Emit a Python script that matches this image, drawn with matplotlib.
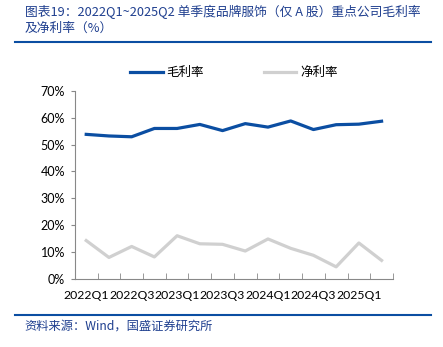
import matplotlib
matplotlib.use("Agg")
import matplotlib.pyplot as plt
from matplotlib.ticker import PercentFormatter

quarters = ["2022Q1", "2022Q2", "2022Q3", "2022Q4", "2023Q1", "2023Q2", "2023Q3",
            "2023Q4", "2024Q1", "2024Q2", "2024Q3", "2024Q4", "2025Q1", "2025Q2"]
gross_margin = [53.8, 53.2, 52.9, 56.0, 56.0, 57.5, 55.2, 57.8, 56.5, 58.8, 55.6, 57.4, 57.6, 58.7]
net_margin = [14.2, 7.9, 12.0, 8.1, 16.0, 13.0, 12.8, 10.3, 14.8, 11.3, 8.7, 4.4, 13.3, 6.8]

title = "图表19：2022Q1~2025Q2 单季度品牌服饰（仅 A 股）重点公司毛利率\n及净利率（%）"
source = "资料来源：Wind，国盛证券研究所"

plt.rcParams["font.family"] = ["Noto Sans CJK SC", "DejaVu Sans"]

blue = "#0b4ea2"
grey = "#d0d0d0"
text_blue = "#1f3f8f"

fig = plt.figure(figsize=(4.43, 3.47), dpi=100)
ax = fig.add_axes([0.169, 0.197, 0.718, 0.541])

x = range(len(quarters))
ax.plot(x, gross_margin, color=blue, lw=2.3, label="毛利率")
ax.plot(x, net_margin, color=grey, lw=2.3, label="净利率")

ax.set_xlim(-0.5, len(quarters) - 0.5)
ax.set_ylim(0, 70)
ax.set_yticks(range(0, 71, 10))
ax.yaxis.set_major_formatter(PercentFormatter(decimals=0))
ax.set_xticks(list(range(0, len(quarters), 2)))
ax.set_xticklabels(quarters[::2])
ax.set_xticks([i - 0.5 for i in range(len(quarters) + 1)], minor=True)
ax.tick_params(axis="x", which="major", length=0, labelsize=8.8, pad=8)
ax.tick_params(axis="x", which="minor", direction="in", length=4, color="#888888")
ax.tick_params(axis="y", length=3, labelsize=9, color="#888888", pad=4)
for lab in ax.get_xticklabels() + ax.get_yticklabels():
    lab.set_fontfamily("Lato")

for s in ["top", "right"]:
    ax.spines[s].set_visible(False)
ax.spines["left"].set_color("#888888")
ax.spines["bottom"].set_color("#888888")

leg = fig.legend(loc="center", bbox_to_anchor=(0.528, 0.79), ncol=2, frameon=False,
                 fontsize=9, handlelength=2.6, columnspacing=4.8, handletextpad=0.3)

fig.text(0.056, 0.985, title, ha="left", va="top", fontsize=9.2, color=text_blue,
         linespacing=1.2)
fig.add_artist(plt.Line2D([0.034, 0.972], [0.88, 0.88], color=blue, lw=1.5))
fig.add_artist(plt.Line2D([0.034, 0.972], [0.092, 0.092], color=blue, lw=1.5))
fig.text(0.056, 0.06, source, ha="left", va="center", fontsize=8.8, color=text_blue)

fig.savefig("out.png", dpi=100)
